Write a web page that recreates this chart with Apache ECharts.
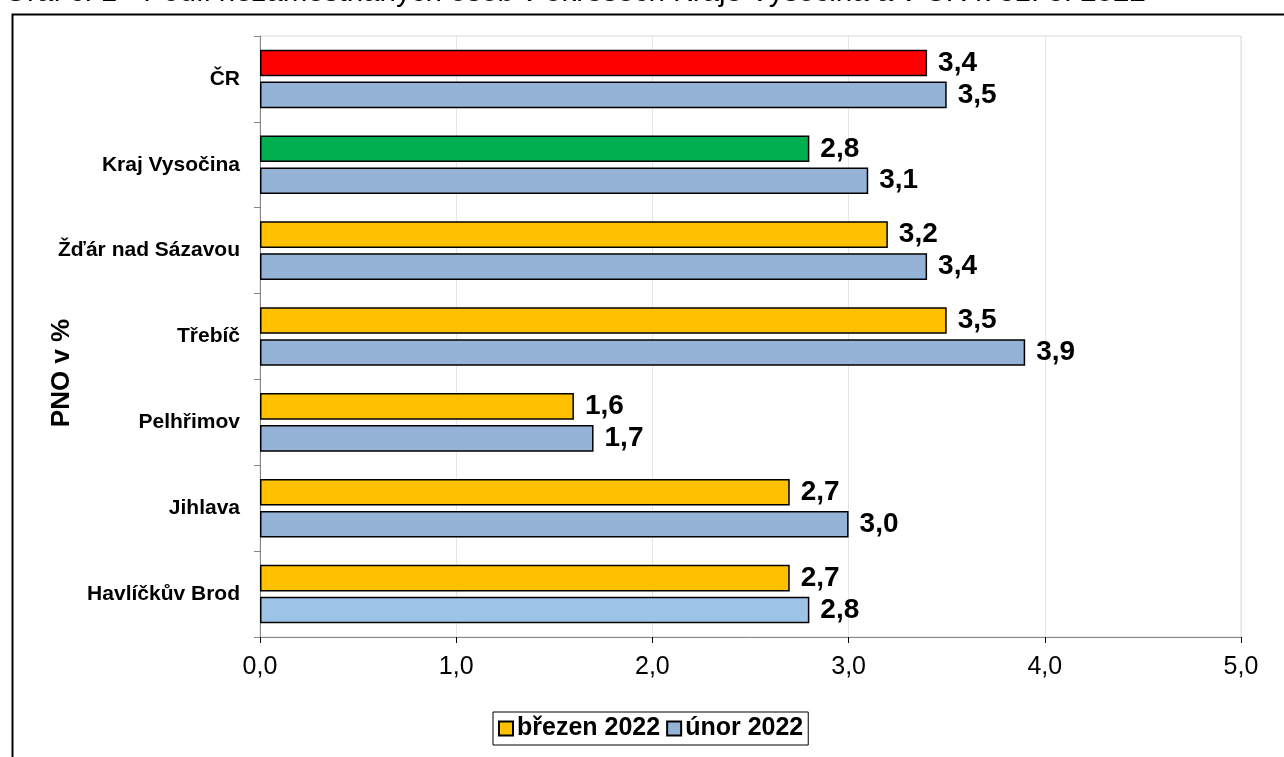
<!DOCTYPE html>
<html>
<head>
<meta charset="utf-8">
<script src="https://cdn.jsdelivr.net/npm/echarts@6/dist/echarts.min.js"></script>
<style>
html,body{margin:0;padding:0;background:#fff;}
#c{width:1284px;height:757px;}
</style>
</head>
<body>
<div id="c"></div>
<script>
// categories bottom -> top (ECharts category yAxis starts at bottom)
const categories = ['Havlíčkův Brod', 'Jihlava', 'Pelhřimov', 'Třebíč', 'Žďár nad Sázavou', 'Kraj Vysočina', 'ČR'];
const brezen2022 = [2.7, 2.7, 1.6, 3.5, 3.2, 2.8, 3.4];
const unor2022 = [2.8, 3.0, 1.7, 3.9, 3.4, 3.1, 3.5];
const xTicks = [0, 1, 2, 3, 4, 5];
const titleText = 'Graf č. 1 - Podíl nezaměstnaných osob v okresech Kraje Vysočina a v ČR k 31. 3. 2022';
const yAxisTitle = 'PNO v %';

const FONT = '"Liberation Sans", Arial, sans-serif';
const brezenColors = ['#FFC000', '#FFC000', '#FFC000', '#FFC000', '#FFC000', '#00B050', '#FF0000'];
const unorColors = ['#9DC3E6', '#95B3D7', '#95B3D7', '#95B3D7', '#95B3D7', '#95B3D7', '#95B3D7'];

const fmt = v => v.toFixed(1).replace('.', ',');

const labelCfg = {
  show: true, position: 'right', distance: 11,
  formatter: p => fmt(p.value),
  fontFamily: FONT, fontWeight: 'bold', fontSize: 28, color: '#000'
};

const chart = echarts.init(document.getElementById('c'), null, {renderer: 'canvas'});
chart.setOption({
  animation: false,
  backgroundColor: '#fff',
  graphic: [
    {type: 'rect', left: 10, top: 12, shape: {width: 1300, height: 800},
     style: {fill: 'none', stroke: '#000', lineWidth: 2}, silent: true},
    {type: 'text', left: 4, top: -22,
     style: {text: titleText, font: '29.5px ' + FONT, fill: '#000'}},
    {type: 'text', x: 62, y: 373, rotation: Math.PI / 2,
     style: {text: yAxisTitle, font: 'bold 26px ' + FONT, fill: '#000', align: 'center', verticalAlign: 'middle'}}
  ],
  grid: {left: 260, right: 43, top: 36, bottom: 120, show: true, borderColor: '#d9d9d9', borderWidth: 1},
  legend: {
    data: ['březen 2022', 'únor 2022'],
    left: 493, top: 712,
    borderColor: '#000', borderWidth: 1, padding: [4, 5, 4, 5],
    itemWidth: 14, itemHeight: 14, itemGap: 6,
    icon: 'rect',
    textStyle: {fontFamily: FONT, fontWeight: 'bold', fontSize: 25, color: '#000', padding: [0, 0, 0, -1]}
  },
  xAxis: {
    type: 'value', min: 0, max: 5, interval: 1,
    axisLine: {show: true, lineStyle: {color: '#868686', width: 1}},
    axisTick: {show: true, length: 6, lineStyle: {color: '#000'}},
    splitLine: {show: true, lineStyle: {color: '#e6e6e6'}},
    axisLabel: {formatter: v => fmt(v), fontFamily: FONT, fontSize: 25, color: '#000', margin: 18}
  },
  yAxis: {
    type: 'category', data: categories,
    axisLine: {show: true, lineStyle: {color: '#868686'}},
    axisTick: {show: true, length: 6, lineStyle: {color: '#868686'}},
    axisLabel: {fontFamily: FONT, fontWeight: 'bold', fontSize: 21, color: '#000', margin: 20}
  },
  series: [
    {
      name: 'březen 2022', type: 'bar',
      data: brezen2022.map((v, i) => ({value: v, itemStyle: {color: brezenColors[i]}})),
      itemStyle: {color: '#FFC000', borderColor: '#000', borderWidth: 1.5},
      barWidth: '31%', barGap: '20%',
      label: labelCfg
    },
    {
      name: 'únor 2022', type: 'bar',
      data: unor2022.map((v, i) => ({value: v, itemStyle: {color: unorColors[i]}})),
      itemStyle: {color: '#95B3D7', borderColor: '#000', borderWidth: 1.5},
      barWidth: '31%', barGap: '20%',
      label: labelCfg
    }
  ]
});
</script>
</body>
</html>
